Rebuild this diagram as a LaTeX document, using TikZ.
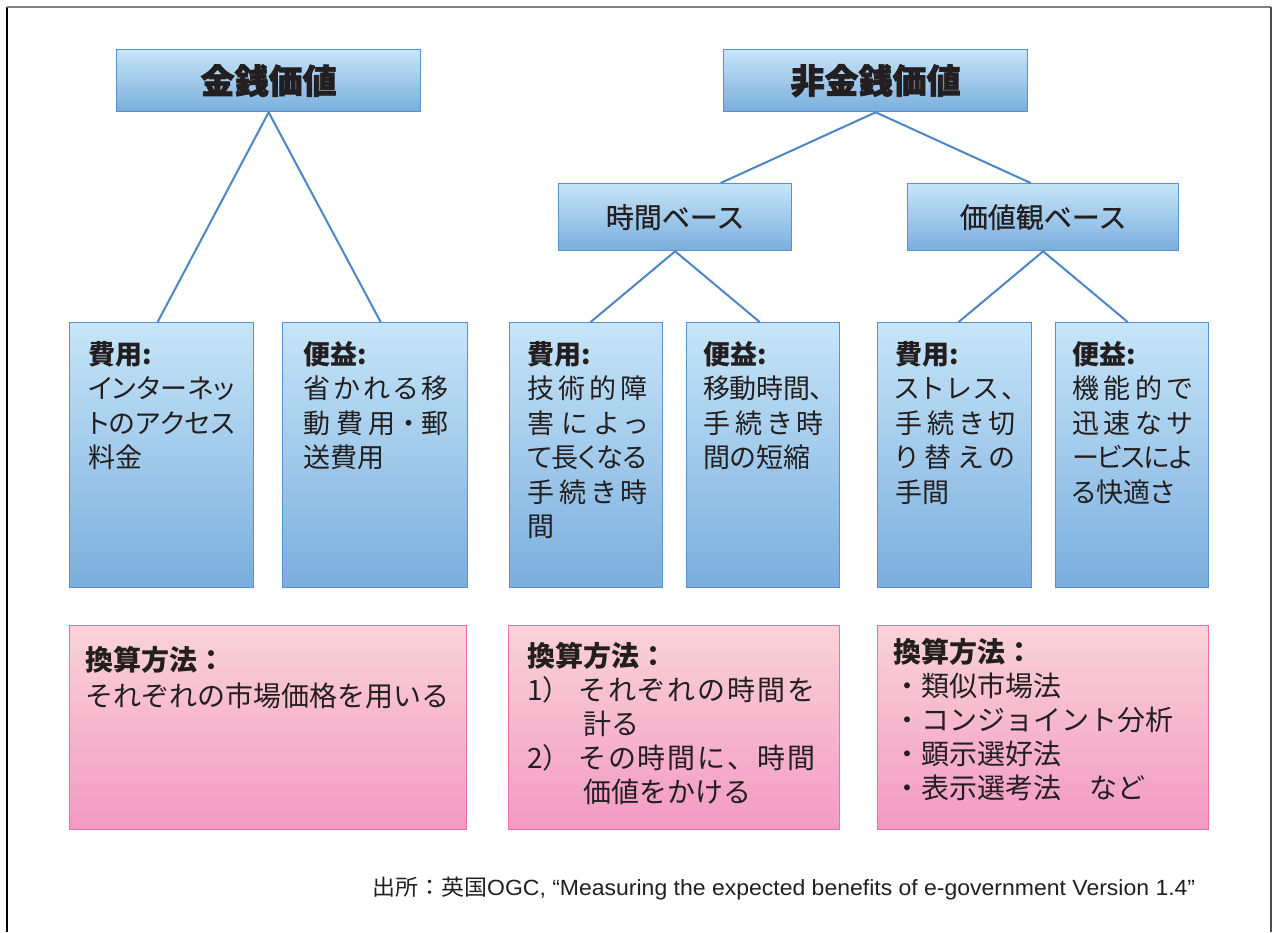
\documentclass[tikz,border=0pt]{standalone}
\usepackage{fontspec}
\usepackage{graphicx}
\usetikzlibrary{calc}
\setmainfont{Noto Sans CJK JP}
\newfontfamily\jpp{Noto Sans CJK JP}[RawFeature=+palt]
\newfontfamily\heavy{Noto Sans CJK JP}[BoldFeatures={FakeBold=2}]
\newfontfamily\medium{Noto Sans CJK JP}[UprightFeatures={FakeBold=0.6}]
\newfontfamily\lat{Liberation Sans}
\definecolor{btop}{HTML}{C6E5F8}
\definecolor{bbot}{HTML}{7BAEDD}
\definecolor{bbord}{HTML}{5A90CC}
\definecolor{lblue}{HTML}{4C86C6}
\definecolor{ptop}{HTML}{F9D3D7}
\definecolor{pbot}{HTML}{F39AC3}
\definecolor{pbord}{HTML}{EC6FA9}
\definecolor{txt}{HTML}{231F20}
\def\sprEnd{}
\newcommand\spr[2]{\hbox to #1{\sprA#2\sprEnd}}
\def\sprA#1#2{#1\ifx#2\sprEnd\else\hskip 0pt plus 1fill minus 6pt\expandafter\sprA\expandafter#2\fi}
\newcommand\blk[2]{\vtop{\baselineskip=#1\lineskiplimit=-1000pt\lineskip=0pt\relax #2}}
\tikzset{
  bbox/.style={draw=bbord, line width=1.3pt, top color=btop, bottom color=bbot, inner sep=0pt, anchor=north west, text=txt},
  pbox/.style={draw=pbord, line width=1.3pt, top color=ptop, bottom color=pbot, inner sep=0pt, anchor=north west},
  conn/.style={draw=lblue, line width=2pt},
  body/.style={inner sep=0pt, anchor=base west, text=txt, font=\jpp\fontsize{27}{34}\selectfont},
  pbody/.style={inner sep=0pt, anchor=base west, text=txt, font=\fontsize{28}{34}\selectfont},
  titlefont/.style={font=\heavy\bfseries\fontsize{34}{40}\selectfont},
  subfont/.style={font=\medium\fontsize{28}{34}\selectfont},
}
\begin{document}
\begin{tikzpicture}[x=1pt,y=-1pt]
\useasboundingbox[fill=white] (0,0) rectangle (1274,932);
% frame
\draw[line width=1.5pt, black] (7,932) -- (7,7);
\draw[line width=1.5pt, gray] (7,7) -- (1271,7);
\draw[line width=1.5pt, black!70] (1271,7) -- (1271,932);
% top level
\node[bbox, titlefont, minimum width=304pt, minimum height=62pt] (m1) at (116,49) {金銭価値};
\node[bbox, titlefont, minimum width=304pt, minimum height=62pt] (m2) at (723,49) {非金銭価値};
% second level
\node[bbox, subfont, minimum width=233pt, minimum height=67pt] (s1) at (558,183) {時間ベース};
\node[bbox, subfont, minimum width=271pt, minimum height=67pt] (s2) at (907,183) {価値観ベース};
% leaves
\node[bbox, minimum width=184pt, minimum height=265pt] (b1) at (69,322) {};
\node[bbox, minimum width=185pt, minimum height=265pt] (b2) at (282,322) {};
\node[bbox, minimum width=153pt, minimum height=265pt] (b3) at (509,322) {};
\node[bbox, minimum width=153pt, minimum height=265pt] (b4) at (686,322) {};
\node[bbox, minimum width=154pt, minimum height=265pt] (b5) at (877,322) {};
\node[bbox, minimum width=153pt, minimum height=265pt] (b6) at (1055,322) {};
% pink
\node[pbox, minimum width=397pt, minimum height=204pt] (p1) at (69,625) {};
\node[pbox, minimum width=331pt, minimum height=204pt] (p2) at (508,625) {};
\node[pbox, minimum width=331pt, minimum height=204pt] (p3) at (877,625) {};
% connectors
\draw[conn] (m1.south) -- ($(b1.north)+(-4,0)$);
\draw[conn] (m1.south) -- ($(b2.north)+(5.5,0)$);
\draw[conn] (m2.south) -- ($(s1.north)+(45.5,0)$);
\draw[conn] (m2.south) -- ($(s2.north)+(-12.5,0)$);
\draw[conn] (s1.south) -- ($(b3.north)+(4.5,0)$);
\draw[conn] (s1.south) -- ($(b4.north)+(-3.5,0)$);
\draw[conn] (s2.south) -- ($(b5.north)+(4,0)$);
\draw[conn] (s2.south) -- ($(b6.north)+(-4.5,0)$);
% leaf texts
\node[body] (t1) at (88,364.5) {\blk{34.4pt}{\hbox{\bfseries 費用:}\spr{147pt}{インターネッ}\spr{147pt}{トのアクセス}\hbox{料金}}};
\node[body] (t2) at (303,364.5) {\blk{34.4pt}{\hbox{\bfseries 便益:}\spr{145pt}{省かれる移}\spr{145pt}{動費用・郵}\hbox{送費用}}};
\node[body] (t3) at (527,364.5) {\blk{34.4pt}{\hbox{\bfseries 費用:}\spr{120pt}{技術的障}\spr{120pt}{害によっ}\spr{120pt}{て長くなる}\spr{120pt}{手続き時}\hbox{間}}};
\node[body] (t4) at (703,364.5) {\blk{34.4pt}{\hbox{\bfseries 便益:}\spr{120pt}{移動時間、}\spr{120pt}{手続き時}\hbox{間の短縮}}};
\node[body] (t5) at (895,364.5) {\blk{34.4pt}{\hbox{\bfseries 費用:}\spr{120pt}{ストレス、}\spr{120pt}{手続き切}\spr{120pt}{り替えの}\hbox{手間}}};
\node[body] (t6) at (1072,364.5) {\blk{34.4pt}{\hbox{\bfseries 便益:}\spr{120pt}{機能的で}\spr{120pt}{迅速なサ}\spr{120pt}{ービスによ}\hbox{る快適さ}}};
% pink texts
\node[pbody] (q1) at (85,670.6) {\blk{36pt}{\hbox{\bfseries 換算方法：}\hbox{それぞれの市場価格を用いる}}};
\node[pbody] (q2) at (527,666.6) {\blk{34pt}{\hbox{\bfseries 換算方法：}\hbox{\hbox to 51pt{1）\hss}\spr{237pt}{それぞれの時間を}}\hbox{\hskip56pt 計る}\hbox{\hbox to 51pt{2）\hss}\spr{237pt}{その時間に、時間}}\hbox{\hskip56pt 価値をかける}}};
\node[pbody] (q3) at (893,662.6) {\blk{34pt}{\hbox{\bfseries 換算方法：}\hbox{・類似市場法}\hbox{・コンジョイント分析}\hbox{・顕示選好法}\hbox{・表示選考法　など}}};
% source
\node[inner sep=0pt, anchor=base west, text=txt] (src) at (372,895) {\resizebox{823pt}{\height}{\fontsize{22}{26}\selectfont 出所：英国{\lat OGC, “Measuring the expected benefits of e-government Version 1.4”}}};
\end{tikzpicture}
\end{document}
